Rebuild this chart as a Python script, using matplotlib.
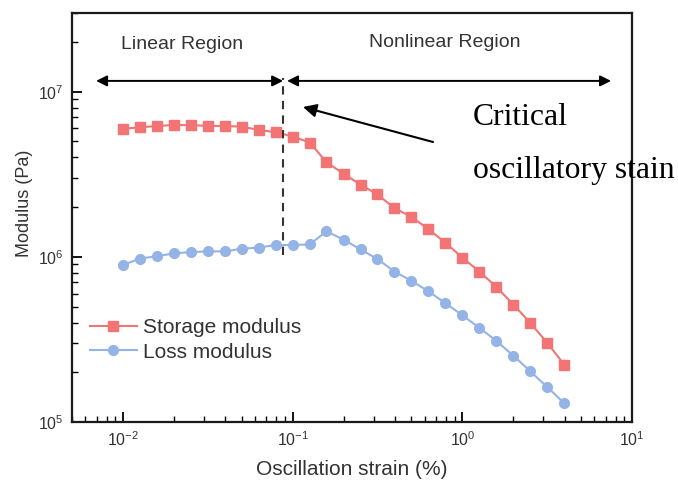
import matplotlib
matplotlib.use("Agg")
import matplotlib.pyplot as plt
from matplotlib.ticker import LogLocator, NullFormatter

plt.rcParams['font.family'] = ['Liberation Sans', 'DejaVu Sans']
plt.rcParams['mathtext.fontset'] = 'custom'
plt.rcParams['mathtext.rm'] = 'Liberation Sans'
plt.rcParams['mathtext.it'] = 'Liberation Sans'
plt.rcParams['mathtext.default'] = 'regular'
plt.rcParams['axes.unicode_minus'] = False

# Oscillation strain (%) and moduli (Pa)
strain = [0.01, 0.0126, 0.0158, 0.02, 0.0251, 0.0316, 0.0398, 0.0501, 0.0631,
          0.0794, 0.1, 0.126, 0.158, 0.2, 0.251, 0.316, 0.398, 0.501, 0.631,
          0.794, 1.0, 1.26, 1.58, 2.0, 2.51, 3.16, 3.98]
storage_modulus = [5.96e6, 6.10e6, 6.20e6, 6.30e6, 6.27e6, 6.23e6, 6.20e6, 6.15e6,
                   5.87e6, 5.69e6, 5.36e6, 4.93e6, 3.75e6, 3.18e6, 2.74e6, 2.39e6,
                   1.97e6, 1.75e6, 1.47e6, 1.22e6, 9.9e5, 8.15e5, 6.6e5, 5.14e5,
                   3.99e5, 3.02e5, 2.23e5]
loss_modulus = [8.95e5, 9.77e5, 1.01e6, 1.05e6, 1.07e6, 1.08e6, 1.08e6, 1.12e6,
                1.14e6, 1.18e6, 1.18e6, 1.19e6, 1.43e6, 1.27e6, 1.11e6, 9.7e5,
                8.15e5, 7.17e5, 6.18e5, 5.25e5, 4.43e5, 3.72e5, 3.11e5, 2.52e5,
                2.03e5, 1.63e5, 1.30e5]
critical_strain = 0.088

red = '#F27474'
blue = '#94B3E7'
txt = '#333333'

fig = plt.figure(figsize=(6.78, 4.80), dpi=100)
ax = fig.add_axes([0.1062, 0.1208, 0.826, 0.8521])

ax.plot(strain, storage_modulus, color=red, lw=1.5, marker='s', ms=7.2,
        mec=red, mfc=red, label='Storage modulus')
ax.plot(strain, loss_modulus, color=blue, lw=1.5, marker='o', ms=7,
        mec=blue, mfc=blue, label='Loss modulus')

ax.set_xscale('log')
ax.set_yscale('log')
ax.set_xlim(0.005, 10)
ax.set_ylim(1e5, 3e7)

for axis in (ax.xaxis, ax.yaxis):
    axis.set_major_locator(LogLocator(base=10, numticks=10))
    axis.set_minor_locator(LogLocator(base=10, subs=range(2, 10), numticks=20))
    axis.set_minor_formatter(NullFormatter())

ax.tick_params(which='major', direction='in', length=7, width=1.3,
               labelsize=11.5, labelcolor=txt, top=False, right=False, pad=6)
ax.tick_params(which='minor', direction='in', length=4, width=1.0,
               top=False, right=False)
for s in ax.spines.values():
    s.set_linewidth(1.6)
    s.set_color('#1a1a1a')

ax.set_xlabel('Oscillation strain (%)', fontsize=15, color=txt, labelpad=8)
ax.set_ylabel('Modulus (Pa)', fontsize=13, color=txt)
ax.yaxis.set_label_coords(-0.069, 0.535)

# critical strain marker
ax.axvline(critical_strain, ymin=0.408, ymax=0.841, color='#333333',
           lw=1.5, ls=(0, (4, 3)))

# region arrows
arrow_kw = dict(arrowstyle='<|-|>', color='black', lw=1.4, mutation_scale=16,
                shrinkA=0, shrinkB=0)
ax.annotate('', xy=(0.043, 0.834), xytext=(0.377, 0.834),
            xycoords='axes fraction', arrowprops=arrow_kw)
ax.annotate('', xy=(0.384, 0.834), xytext=(0.9625, 0.834),
            xycoords='axes fraction', arrowprops=arrow_kw)

ax.text(0.196, 0.924, 'Linear Region', transform=ax.transAxes, fontsize=14,
        color=txt, ha='center', va='center')
ax.text(0.666, 0.929, 'Nonlinear Region', transform=ax.transAxes, fontsize=14,
        color=txt, ha='center', va='center')

ax.annotate('', xy=(0.4125, 0.7702), xytext=(0.6446, 0.6846),
            xycoords='axes fraction',
            arrowprops=dict(arrowstyle='-|>', color='black', lw=1.5,
                            mutation_scale=20, shrinkA=0, shrinkB=0))

fig.text(0.6976, 0.7396, 'Critical', fontsize=22.8, family='Liberation Serif',
         color='black', ha='left', va='baseline')
fig.text(0.6976, 0.629, 'oscillatory stain', fontsize=22.8, family='Liberation Serif',
         color='black', ha='left', va='baseline')

leg = ax.legend(loc='center left', bbox_to_anchor=(0.032, 0.2005), frameon=False,
                fontsize=15, handlelength=2.25, handletextpad=0.3,
                labelspacing=0.25, borderpad=0, borderaxespad=0)
for t in leg.get_texts():
    t.set_color(txt)

fig.savefig('out.png', dpi=100)
